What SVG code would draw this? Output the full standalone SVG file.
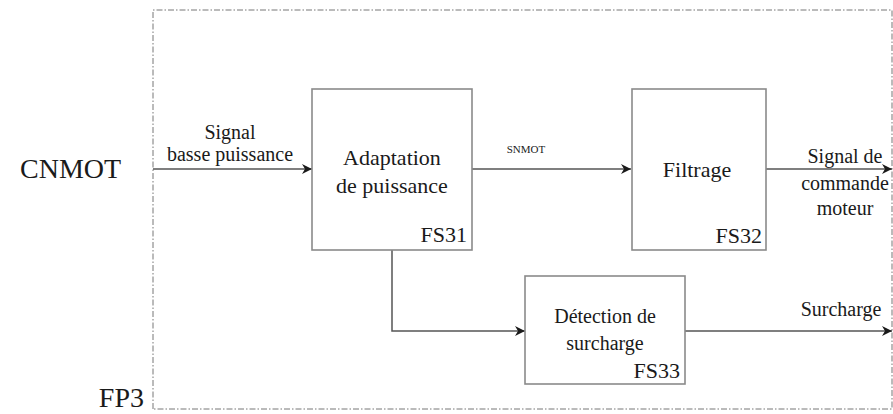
<svg xmlns="http://www.w3.org/2000/svg" width="893" height="414" viewBox="0 0 893 414">
  <defs>
    <style>
      .serif { font-family: 'Liberation Serif', 'Times New Roman', serif !important; fill: #1a1a1a; }
      .sz20 { font-size: 20px; }
      .sz22 { font-size: 22px; }
      .sz28 { font-size: 28px; }
      .endA { text-anchor: end; }
      .midA { text-anchor: middle; }
      .box { fill: #ffffff; stroke: #8a8a8a; stroke-width: 1.6; }
      .wire { fill: none; stroke: #555555; stroke-width: 1.5; }
      .frame { fill: none; stroke: #777777; stroke-width: 1; stroke-dasharray: 6 2 1.5 2; }
    </style>
    <marker id="arr" viewBox="0 0 12 12" refX="11" refY="6" markerWidth="12" markerHeight="12" markerUnits="userSpaceOnUse" orient="auto">
      <path d="M1,1 L11,6 L1,11 L4,6 Z" fill="#1a1a1a"/>
    </marker>
  </defs>

  <rect width="893" height="414" fill="#ffffff"/>

  <!-- function boundary FP3 -->
  <path class="frame" d="M153,409 L153,10 L892,10 L892,409 Z"/>
  <text class="serif sz28" x="20" y="178">CNMOT</text>
  <text class="serif sz28 endA" x="144" y="407">FP3</text>

  <!-- connectors -->
  <g id="connectors">
    <line class="wire" x1="153" y1="169" x2="312" y2="169" marker-end="url(#arr)"/>
    <line class="wire" x1="472" y1="169" x2="631" y2="169" marker-end="url(#arr)"/>
    <line class="wire" x1="766" y1="169" x2="892" y2="169" marker-end="url(#arr)"/>
    <polyline class="wire" points="392,250 392,331 525,331" marker-end="url(#arr)"/>
    <line class="wire" x1="685" y1="331" x2="892" y2="331" marker-end="url(#arr)"/>
    <g class="serif" font-family="'Liberation Serif', serif">
      <text class="serif sz20 midA" x="230" y="139">Signal</text>
      <text class="serif sz20 midA" x="230" y="161">basse puissance</text>
      <text class="serif midA" x="526" y="153" font-size="11" fill="#333">SNMOT</text>
      <text class="serif sz20 midA" x="845" y="163">Signal de</text>
      <text class="serif sz20 midA" x="845" y="190">commande</text>
      <text class="serif sz20 midA" x="845" y="215">moteur</text>
      <text class="serif sz20 midA" x="841" y="316">Surcharge</text>
    </g>
  </g>

  <!-- FS31 -->
  <g id="fs31">
    <rect class="box" x="312" y="89" width="160" height="161"/>
    <g class="serif" font-family="'Liberation Serif', serif">
      <text class="serif sz22 midA" x="392" y="165">Adaptation</text>
      <text class="serif sz22 midA" x="392" y="193">de puissance</text>
      <text class="serif sz22 endA" x="467" y="242">FS31</text>
    </g>
  </g>

  <!-- FS32 -->
  <g id="fs32">
    <rect class="box" x="632" y="89" width="134" height="161"/>
    <g class="serif" font-family="'Liberation Serif', serif">
      <text class="serif sz22 midA" x="697" y="177">Filtrage</text>
      <text class="serif sz22 endA" x="762" y="243">FS32</text>
    </g>
  </g>

  <!-- FS33 -->
  <g id="fs33">
    <rect class="box" x="525" y="276" width="160" height="108"/>
    <g class="serif" font-family="'Liberation Serif', serif">
      <text class="serif sz20 midA" x="605" y="323">Détection de</text>
      <text class="serif sz20 midA" x="605" y="350">surcharge</text>
      <text class="serif sz22 endA" x="680" y="378">FS33</text>
    </g>
  </g>
</svg>
